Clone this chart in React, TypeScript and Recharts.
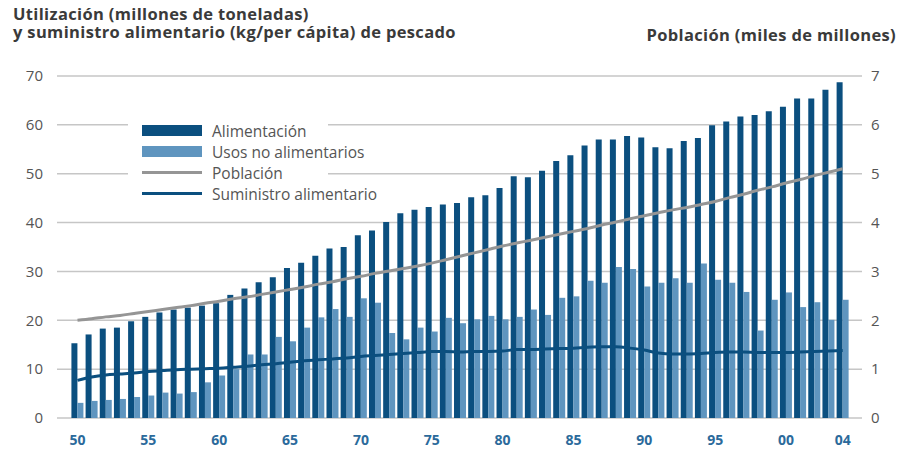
import React from 'react';
import { ComposedChart, Bar, Line, XAxis, YAxis, CartesianGrid, Legend } from 'recharts';

const years = [
  1950, 1951, 1952, 1953, 1954, 1955, 1956, 1957, 1958, 1959,
  1960, 1961, 1962, 1963, 1964, 1965, 1966, 1967, 1968, 1969,
  1970, 1971, 1972, 1973, 1974, 1975, 1976, 1977, 1978, 1979,
  1980, 1981, 1982, 1983, 1984, 1985, 1986, 1987, 1988, 1989,
  1990, 1991, 1992, 1993, 1994, 1995, 1996, 1997, 1998, 1999,
  2000, 2001, 2002, 2003, 2004,
];

// millones de toneladas
const alimentacion = [
  15.3, 17.1, 18.3, 18.5, 19.8, 20.7, 21.6, 22.2, 22.6, 23.0,
  23.5, 25.2, 26.5, 27.8, 28.8, 30.7, 31.8, 33.2, 34.7, 35.0,
  37.4, 38.4, 40.1, 41.9, 42.6, 43.2, 43.7, 44.0, 45.2, 45.6,
  47.1, 49.5, 49.3, 50.6, 52.6, 53.8, 55.8, 57.0, 57.0, 57.7,
  57.4, 55.4, 55.2, 56.7, 57.3, 59.9, 60.7, 61.7, 62.0, 62.8,
  63.7, 65.4, 65.4, 67.2, 68.7,
];

const usosNoAlimentarios = [
  3.1, 3.5, 3.7, 3.9, 4.3, 4.6, 5.2, 5.0, 5.3, 7.3,
  8.7, 10.0, 13.0, 13.0, 16.6, 15.7, 18.5, 20.6, 22.3, 20.7,
  24.5, 23.6, 17.4, 16.1, 18.5, 17.7, 20.5, 19.4, 20.2, 20.9,
  20.2, 20.7, 22.2, 21.1, 24.6, 24.9, 28.1, 27.7, 30.9, 30.5,
  26.9, 27.7, 28.6, 27.7, 31.6, 28.3, 27.7, 25.8, 17.9, 24.2,
  25.7, 22.7, 23.7, 20.1, 24.2,
];

// miles de millones (eje derecho)
const poblacion = [
  2.00, 2.03, 2.07, 2.10, 2.14, 2.18, 2.22, 2.26, 2.30, 2.35,
  2.39, 2.44, 2.48, 2.53, 2.58, 2.63, 2.68, 2.74, 2.79, 2.85,
  2.90, 2.96, 3.01, 3.06, 3.11, 3.17, 3.24, 3.31, 3.38, 3.45,
  3.52, 3.58, 3.64, 3.70, 3.76, 3.82, 3.88, 3.95, 4.01, 4.08,
  4.14, 4.20, 4.26, 4.31, 4.37, 4.43, 4.51, 4.58, 4.66, 4.73,
  4.81, 4.88, 4.96, 5.03, 5.10,
];

// kg per cápita
const suministro = [
  7.7, 8.4, 8.8, 9.0, 9.2, 9.5, 9.7, 9.9, 10.0, 10.1,
  10.2, 10.4, 10.6, 10.9, 11.1, 11.4, 11.7, 11.9, 12.1, 12.3,
  12.6, 12.8, 13.0, 13.2, 13.4, 13.6, 13.6, 13.5, 13.6, 13.6,
  13.7, 14.0, 14.0, 14.1, 14.2, 14.3, 14.5, 14.6, 14.6, 14.3,
  13.9, 13.3, 13.1, 13.1, 13.2, 13.4, 13.5, 13.5, 13.4, 13.4,
  13.4, 13.5, 13.6, 13.7, 13.8,
];

const leftTicks = [0, 10, 20, 30, 40, 50, 60, 70];
const rightTicks = [0, 1, 2, 3, 4, 5, 6, 7];
const yearTicks = [1950, 1955, 1960, 1965, 1970, 1975, 1980, 1985, 1990, 1995, 2000, 2004];

const DARK = '#0b4f7f';
const LIGHT = '#5f95bf';
const GREY = '#959595';
const FONT = '"Open Sans", "DejaVu Sans", sans-serif';

const data = years.map((year, i) => ({
  year,
  alimentacion: alimentacion[i],
  usos: usosNoAlimentarios[i],
  poblacion: poblacion[i],
  suministro: suministro[i],
}));

const legendItems = [
  { label: 'Alimentación', kind: 'box', color: DARK },
  { label: 'Usos no alimentarios', kind: 'box', color: LIGHT },
  { label: 'Población', kind: 'line', color: GREY },
  { label: 'Suministro alimentario', kind: 'line', color: DARK },
];

// white box behind the legend cuts the gridlines between x=128 and x=328
const LegendBox = () => (
  <div
    style={{
      background: '#fff',
      width: 200,
      boxSizing: 'border-box',
      padding: '6px 0 6px 14px',
      fontFamily: FONT,
      whiteSpace: 'nowrap',
    }}
  >
    {legendItems.map((item) => (
      <div key={item.label} style={{ display: 'flex', alignItems: 'center', height: 21 }}>
        <span
          style={{
            display: 'inline-block',
            flex: 'none',
            width: 60,
            height: item.kind === 'box' ? 11 : 3,
            background: item.color,
            marginRight: 10,
          }}
        />
        <span style={{ fontSize: 15.5, color: '#555' }}>{item.label}</span>
      </div>
    ))}
  </div>
);

const titleStyle: React.CSSProperties = {
  position: 'absolute',
  fontSize: 16.5,
  lineHeight: '18px',
  letterSpacing: 0.35,
  fontWeight: 700,
  color: '#3a3a3a',
  whiteSpace: 'nowrap',
};

export default function App() {
  return (
    <div style={{ position: 'relative', width: 904, height: 453, margin: -8, background: '#fff', fontFamily: FONT }}>
      <div style={{ ...titleStyle, left: 13, top: 5 }}>
        Utilización (millones de toneladas)
        <br />
        y suministro alimentario (kg/per cápita) de pescado
      </div>
      <div style={{ ...titleStyle, right: 8, top: 26 }}>Población (miles de millones)</div>
      <ComposedChart
        width={904}
        height={453}
        data={data}
        margin={{ top: 76, right: 0, bottom: 0, left: 0 }}
        barGap={0}
      >
        <CartesianGrid yAxisId="left" vertical={false} stroke="#c6c6c6" strokeWidth={1.5} />
        <XAxis
          dataKey="year"
          type="number"
          domain={[1948.553, 2005.362]}
          allowDataOverflow
          ticks={yearTicks}
          interval={0}
          tickFormatter={(y: number) => String(y % 100).padStart(2, '0')}
          axisLine={false}
          tickLine={false}
          tickSize={0}
          tickMargin={17}
          height={35}
          tick={{ fill: '#2b6a9b', fontSize: 14, fontWeight: 700 }}
        />
        <YAxis
          yAxisId="left"
          domain={[0, 70]}
          ticks={leftTicks}
          axisLine={false}
          tickLine={false}
          tickSize={0}
          tickMargin={14}
          width={57}
          tick={{ fill: '#555', fontSize: 15 }}
        />
        <YAxis
          yAxisId="right"
          orientation="right"
          domain={[0, 7]}
          ticks={rightTicks}
          axisLine={false}
          tickLine={false}
          tickSize={0}
          tickMargin={9}
          width={42}
          tick={{ fill: '#555', fontSize: 15 }}
        />
        <Legend
          layout="vertical"
          align="center"
          verticalAlign="middle"
          content={<LegendBox />}
          wrapperStyle={{ left: 128, top: 114, width: 'auto' }}
        />
        <Bar yAxisId="left" dataKey="alimentacion" name="Alimentación" fill={DARK} barSize={6} isAnimationActive={false} />
        <Bar yAxisId="left" dataKey="usos" name="Usos no alimentarios" fill={LIGHT} barSize={6} isAnimationActive={false} />
        <Line
          yAxisId="right"
          dataKey="poblacion"
          name="Población"
          stroke={GREY}
          strokeWidth={3}
          dot={false}
          type="monotone"
          isAnimationActive={false}
        />
        <Line
          yAxisId="left"
          dataKey="suministro"
          name="Suministro alimentario"
          stroke={DARK}
          strokeWidth={3}
          dot={false}
          type="monotone"
          isAnimationActive={false}
        />
      </ComposedChart>
    </div>
  );
}
